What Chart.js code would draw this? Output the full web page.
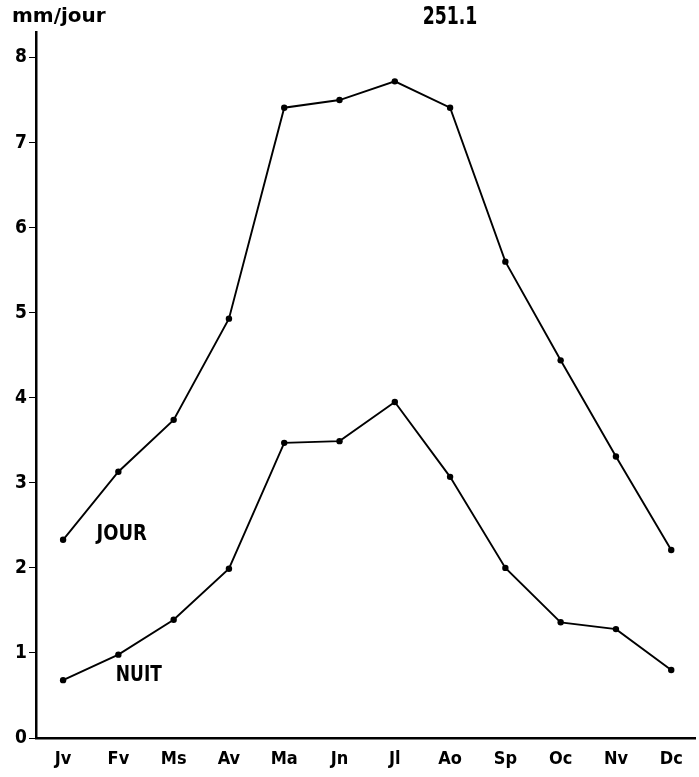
<!DOCTYPE html>
<html>
<head>
<meta charset="utf-8">
<script src="https://cdn.jsdelivr.net/npm/chart.js@4.4.1/dist/chart.umd.min.js"></script>
<style>
  html, body { margin: 0; padding: 0; background: #fff; }
  #box { width: 699px; height: 777px; }
</style>
</head>
<body>
<div id="box"><canvas id="myChart"></canvas></div>
<script>
// evaporation moyenne (mm/jour), jour et nuit
var mois = ['Jv', 'Fv', 'Ms', 'Av', 'Ma', 'Jn', 'Jl', 'Ao', 'Sp', 'Oc', 'Nv', 'Dc'];
var jour = [2.33, 3.13, 3.74, 4.93, 7.41, 7.5, 7.72, 7.41, 5.6, 4.44, 3.31, 2.21];
var nuit = [0.68, 0.98, 1.39, 1.99, 3.47, 3.49, 3.95, 3.07, 2.0, 1.36, 1.28, 0.80];
var yTicks = [0, 1, 2, 3, 4, 5, 6, 7, 8];

var etroite = '"DejaVu Sans Condensed", "DejaVu Sans", sans-serif';
var large = '"DejaVu Sans", sans-serif';

function points(serie){
    return serie.map(function(v, i){ return {x: i, y: v}; });
}

// texte centré, resserré horizontalement (facteur k)
function texteSerre(ctx, txt, x, y, k){
    ctx.save();
    ctx.translate(x, y);
    ctx.scale(k, 1);
    ctx.textAlign = 'center';
    ctx.fillText(txt, 0, 0);
    ctx.restore();
}

// textes libres : unité, numéro de station, noms des courbes
var textes = {
    id: 'textes',
    afterDraw: function(chart){
        var ctx = chart.ctx;
        var sx = chart.scales.x, sy = chart.scales.y;
        ctx.save();
        ctx.fillStyle = '#000';
        ctx.textBaseline = 'middle';
        ctx.textAlign = 'left';
        ctx.font = 'bold 20px ' + large;
        ctx.fillText('mm/jour', 12, 17);
        ctx.font = 'bold 24px ' + etroite;
        texteSerre(ctx, '251.1', 450, 18, 0.8);
        ctx.font = 'bold 21px ' + etroite;
        texteSerre(ctx, 'JOUR', sx.getPixelForValue(1.06), sy.getPixelForValue(2.39), 0.95);
        texteSerre(ctx, 'NUIT', sx.getPixelForValue(1.37), sy.getPixelForValue(0.74), 0.9);
        ctx.restore();
    }
};

var serieStyle = {
    borderColor: '#000',
    backgroundColor: '#000',
    borderWidth: 1.9,
    pointRadius: 3.2,
    pointBorderWidth: 0,
    pointBackgroundColor: '#000',
    tension: 0,
    fill: false
};

var ctx = document.getElementById('myChart').getContext('2d');
var myChart = new Chart(ctx, {
    type: 'line',
    data: {
        datasets: [
            Object.assign({label: 'JOUR', data: points(jour)}, serieStyle),
            Object.assign({label: 'NUIT', data: points(nuit)}, serieStyle)
        ]
    },
    options: {
        responsive: true,
        maintainAspectRatio: false,
        animation: false,
        layout: { padding: { top: 32, right: 0, left: 0, bottom: 0 } },
        plugins: {
            legend: { display: false },
            tooltip: { enabled: false }
        },
        scales: {
            x: {
                type: 'linear',
                min: -0.49,
                max: 11.43,
                afterFit: function(scale){ scale.height = 39; },
                afterBuildTicks: function(scale){
                    scale.ticks = mois.map(function(m, i){ return {value: i}; });
                },
                grid: { display: true, drawOnChartArea: false, drawTicks: false },
                border: { display: true, color: '#000', width: 2.5 },
                ticks: {
                    color: '#000',
                    padding: 11,
                    maxRotation: 0,
                    autoSkip: false,
                    font: { family: etroite, size: 18, weight: 'bold' },
                    callback: function(v){ return mois[v]; }
                }
            },
            y: {
                min: 0,
                max: 8.3,
                afterFit: function(scale){ scale.width = 36; },
                afterBuildTicks: function(scale){
                    scale.ticks = yTicks.map(function(v){ return {value: v}; });
                },
                grid: { display: true, drawOnChartArea: false, drawTicks: true, tickLength: 7, color: '#000', tickWidth: 1 },
                border: { display: true, color: '#000', width: 2.5 },
                ticks: {
                    color: '#000',
                    padding: 2,
                    font: { family: etroite, size: 19, weight: 'bold' }
                }
            }
        }
    },
    plugins: [textes]
});
</script>
</body>
</html>
